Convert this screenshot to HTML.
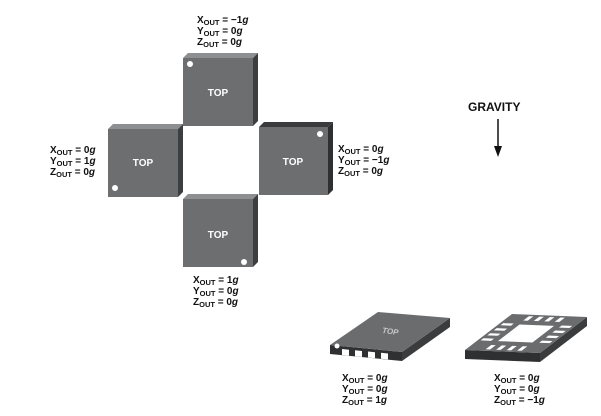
<!DOCTYPE html>
<html><head><meta charset="utf-8"><style>
html,body{margin:0;padding:0;background:#fff;}
svg{display:block}
text{font-family:"Liberation Sans",Arial,sans-serif;font-weight:bold;}
.l{font-size:10px;fill:#111}
.s{font-size:7.5px}
</style></head><body>
<svg width="601" height="416" viewBox="0 0 601 416" xmlns="http://www.w3.org/2000/svg">
<defs>
<g id="cube">
  <polygon points="0,0 5,-5 75,-5 70,0" fill="#8e8f91"/>
  <polygon points="70,0 75,-5 75,63 70,68" fill="#3d3e40"/>
  <rect x="0" y="0" width="70" height="68" fill="#6d6e70"/>
</g>
</defs>
<!-- top cube -->
<use href="#cube" x="183" y="58"/>
<circle cx="190" cy="64" r="3" fill="#fff"/>
<text x="218" y="96" font-size="10" fill="#fff" text-anchor="middle">TOP</text>
<!-- left cube -->
<use href="#cube" x="108" y="129"/>
<circle cx="115" cy="188" r="3" fill="#fff"/>
<text x="143" y="166" font-size="10" fill="#fff" text-anchor="middle">TOP</text>
<!-- right cube -->
<polygon points="259,127 264,122 333,122 328,127" fill="#3a3b3d"/>
<polygon points="328,127 333,122 333,190 328,195" fill="#2e2f31"/>
<rect x="259" y="127" width="69" height="68" fill="#6d6e70"/>
<circle cx="320" cy="134" r="3" fill="#fff"/>
<text x="293" y="165" font-size="10" fill="#fff" text-anchor="middle">TOP</text>
<!-- bottom cube -->
<use href="#cube" x="183" y="199"/>
<circle cx="244" cy="262" r="3" fill="#fff"/>
<text x="218" y="238" font-size="10" fill="#fff" text-anchor="middle">TOP</text>

<!-- labels -->
<g class="l">
<text x="197" y="23">X<tspan class="s" dy="2">OUT</tspan><tspan dy="-2"> = −1</tspan><tspan font-style="italic">g</tspan></text>
<text x="197" y="34">Y<tspan class="s" dy="2">OUT</tspan><tspan dy="-2"> = 0</tspan><tspan font-style="italic">g</tspan></text>
<text x="197" y="45">Z<tspan class="s" dy="2">OUT</tspan><tspan dy="-2"> = 0</tspan><tspan font-style="italic">g</tspan></text>

<text x="50" y="153">X<tspan class="s" dy="2">OUT</tspan><tspan dy="-2"> = 0</tspan><tspan font-style="italic">g</tspan></text>
<text x="50" y="164">Y<tspan class="s" dy="2">OUT</tspan><tspan dy="-2"> = 1</tspan><tspan font-style="italic">g</tspan></text>
<text x="50" y="175">Z<tspan class="s" dy="2">OUT</tspan><tspan dy="-2"> = 0</tspan><tspan font-style="italic">g</tspan></text>

<text x="338" y="152">X<tspan class="s" dy="2">OUT</tspan><tspan dy="-2"> = 0</tspan><tspan font-style="italic">g</tspan></text>
<text x="338" y="163">Y<tspan class="s" dy="2">OUT</tspan><tspan dy="-2"> = −1</tspan><tspan font-style="italic">g</tspan></text>
<text x="338" y="174">Z<tspan class="s" dy="2">OUT</tspan><tspan dy="-2"> = 0</tspan><tspan font-style="italic">g</tspan></text>

<text x="193" y="283">X<tspan class="s" dy="2">OUT</tspan><tspan dy="-2"> = 1</tspan><tspan font-style="italic">g</tspan></text>
<text x="193" y="294">Y<tspan class="s" dy="2">OUT</tspan><tspan dy="-2"> = 0</tspan><tspan font-style="italic">g</tspan></text>
<text x="193" y="305">Z<tspan class="s" dy="2">OUT</tspan><tspan dy="-2"> = 0</tspan><tspan font-style="italic">g</tspan></text>

<text x="342" y="381">X<tspan class="s" dy="2">OUT</tspan><tspan dy="-2"> = 0</tspan><tspan font-style="italic">g</tspan></text>
<text x="342" y="392">Y<tspan class="s" dy="2">OUT</tspan><tspan dy="-2"> = 0</tspan><tspan font-style="italic">g</tspan></text>
<text x="342" y="403">Z<tspan class="s" dy="2">OUT</tspan><tspan dy="-2"> = 1</tspan><tspan font-style="italic">g</tspan></text>

<text x="494" y="381">X<tspan class="s" dy="2">OUT</tspan><tspan dy="-2"> = 0</tspan><tspan font-style="italic">g</tspan></text>
<text x="494" y="392">Y<tspan class="s" dy="2">OUT</tspan><tspan dy="-2"> = 0</tspan><tspan font-style="italic">g</tspan></text>
<text x="494" y="403">Z<tspan class="s" dy="2">OUT</tspan><tspan dy="-2"> = −1</tspan><tspan font-style="italic">g</tspan></text>
</g>

<!-- gravity -->
<text x="468" y="111" font-size="12" fill="#111">GRAVITY</text>
<line x1="498" y1="119" x2="498" y2="147" stroke="#111" stroke-width="1.5"/>
<polygon points="494,146 502,146 498,157" fill="#111"/>

<!-- left package -->
<polygon points="330,345 402,352 402,361 330,354" fill="#2f3031"/>
<polygon points="402,352 450,318 450,327 402,361" fill="#3b3c3e"/>
<polygon points="330,345 378,312 450,318 402,352" fill="#6b6c6e"/>
<g fill="#fff">
<polygon points="342,349 349,349.7 349,355.7 342,355"/>
<polygon points="355,350.3 362,351 362,357 355,356.3"/>
<polygon points="368,351.5 375,352.2 375,358.2 368,357.5"/>
<polygon points="381,352.8 388,353.5 388,359.5 381,358.8"/>
</g>
<circle cx="337" cy="346" r="2.5" fill="#fff"/>
<text x="390" y="334" font-size="8" fill="#c8c8c8" font-style="italic" font-weight="normal" transform="rotate(8 390 334)" text-anchor="middle">TOP</text>

<!-- right package -->
<polygon points="465,350 540,353 540,362 465,359" fill="#2f3031"/>
<polygon points="540,353 587,317 587,326 540,362" fill="#3b3c3e"/>
<g transform="matrix(0.75,0.03,-0.47,0.36,512,314)">
  <rect x="0" y="0" width="100" height="100" fill="#6b6c6e"/>
  <rect x="27" y="27" width="46" height="46" fill="#fff"/>
  <g fill="#fff">
    <!-- front edge pads -->
    <rect x="25" y="84" width="6" height="12"/>
    <rect x="39" y="84" width="6" height="12"/>
    <rect x="53" y="84" width="6" height="12"/>
    <rect x="67" y="84" width="6" height="12"/>
    <!-- back edge pads -->
    <rect x="25" y="4" width="6" height="12"/>
    <rect x="39" y="4" width="6" height="12"/>
    <rect x="53" y="4" width="6" height="12"/>
    <rect x="67" y="4" width="6" height="12"/>
    <!-- left edge pads -->
    <rect x="4" y="25" width="14" height="6"/>
    <rect x="4" y="39" width="14" height="6"/>
    <rect x="4" y="53" width="14" height="6"/>
    <rect x="4" y="67" width="14" height="6"/>
    <!-- right edge pads -->
    <rect x="82" y="25" width="14" height="6"/>
    <rect x="82" y="39" width="14" height="6"/>
    <rect x="82" y="53" width="14" height="6"/>
    <rect x="82" y="67" width="14" height="6"/>
  </g>
</g>
</svg>
</body></html>
